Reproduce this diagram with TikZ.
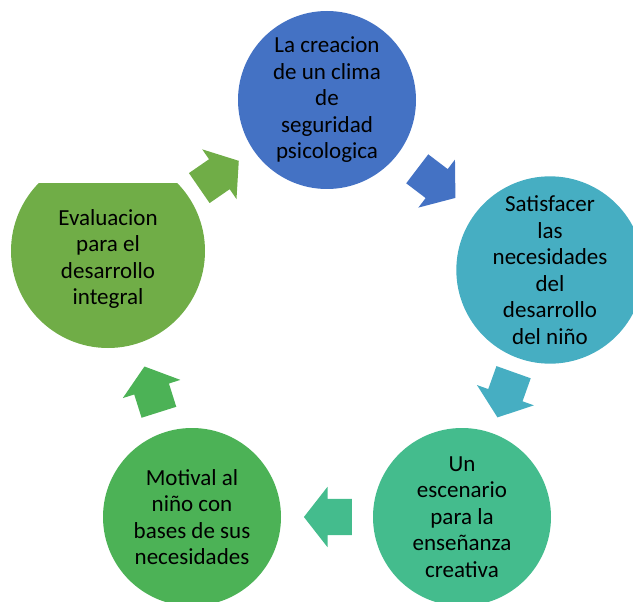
\documentclass[tikz,border=0pt]{standalone}
\usepackage{fontspec}
\setmainfont{Carlito}
\usetikzlibrary{positioning,shapes.arrows}
\definecolor{colblue}{RGB}{68,114,196}
\definecolor{colteal}{RGB}{70,174,194}
\definecolor{colsea}{RGB}{68,188,141}
\definecolor{colgreen}{RGB}{76,178,86}
\definecolor{cololive}{RGB}{112,173,71}
\tikzstyle{stage}=[circle, minimum size=178pt, inner sep=0pt, align=center, font=\fontsize{23}{26.5}\selectfont]
\tikzstyle{turn}=[single arrow, single arrow head extend=12pt, single arrow tip angle=104, inner xsep=0pt, inner ysep=18pt, minimum height=48pt, anchor=tail, sloped, allow upside down]

\begin{document}
\begin{tikzpicture}[x=1pt,y=-1pt]
		    \useasboundingbox (0,0) rectangle (633,602);
		    \clip (0,0) rectangle (633,602);
		    \node [stage, fill=colblue] (clima) at (327,100) {La creacion\\de un clima\\de\\seguridad\\psicologica};
		    \node [stage, fill=colteal, minimum size=176pt] (necesid) at (550,270) {Satisfacer\\las\\necesidades\\del\\desarrollo\\del niño};
		    \node [stage, fill=colsea] (escen) at (462,517) {Un\\escenario\\para la\\enseñanza\\creativa};
		    \node [stage, fill=colgreen] (motiv) at (192,517) {Motival al\\niño con\\bases de sus\\necesidades};
		    \begin{scope}
		    \clip (0,184) rectangle (240,602);
		    \node [stage, fill=cololive, minimum size=194pt, label={[align=center, font=\fontsize{23}{26.5}\selectfont, yshift=-8pt]center:Evaluacion\\para el\\desarrollo\\integral}] (evalu) at (108,251) {};
		    \end{scope}
		    \path (clima.center) -- node [turn, fill=colblue, pos=0.404] (t1) {} (necesid.center);
		    \path (necesid.center) -- node [turn, fill=colteal, pos=0.413] (t2) {} (escen.center);
		    \path (escen.center) -- node [turn, fill=colsea, pos=0.407] (t3) {} (motiv.center);
		    \path (motiv.center) -- node [turn, fill=colgreen, pos=0.393] (t4) {} (evalu.center);
		    \path (evalu.center) -- node [turn, fill=cololive, pos=0.416] (t5) {} (clima.center);
		\end{tikzpicture}
\end{document}
